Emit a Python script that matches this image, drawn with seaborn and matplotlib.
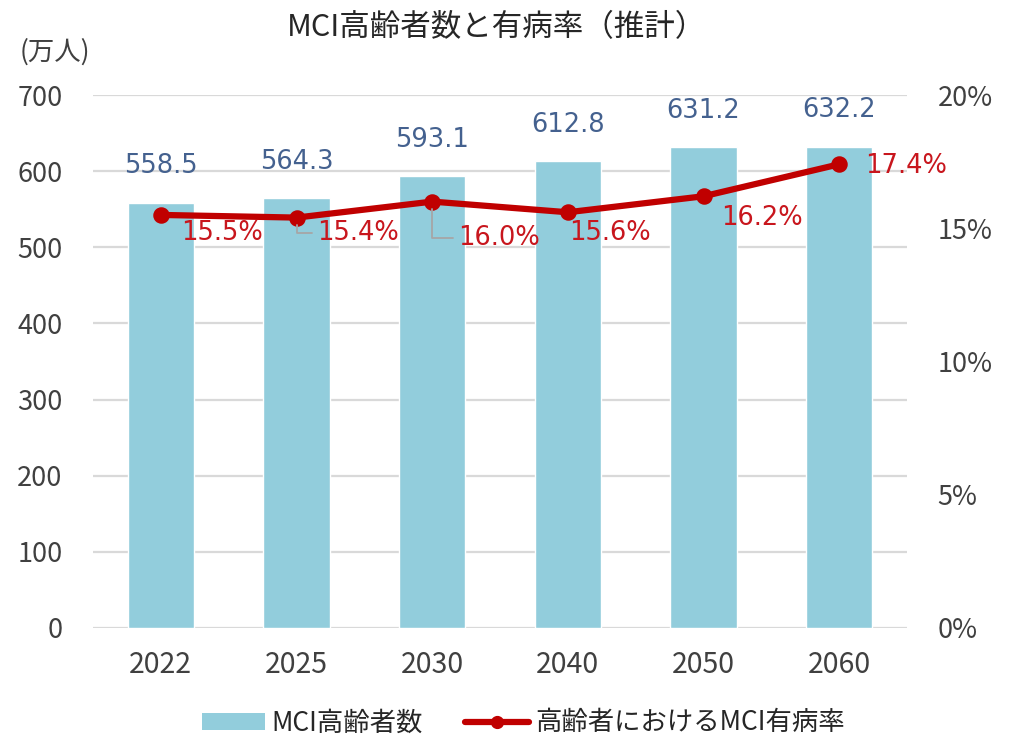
import matplotlib
matplotlib.use('Agg')
import matplotlib.pyplot as plt
import seaborn as sns
from matplotlib.patches import Patch
from matplotlib.lines import Line2D

# データ
years = ['2022', '2025', '2030', '2040', '2050', '2060']
mci_count = [558.5, 564.3, 593.1, 612.8, 631.2, 632.2]   # 万人
mci_rate = [15.5, 15.4, 16.0, 15.6, 16.2, 17.4]          # %
left_ticks = [0, 100, 200, 300, 400, 500, 600, 700]
right_ticks = [0, 5, 10, 15, 20]

bar_color = '#92CDDC'
line_color = '#C00000'
text_color = '#404040'
bar_label_color = '#44618F'
rate_label_color = '#C8161D'

sns.set_theme(style='white')
plt.rcParams['font.family'] = ['Noto Sans CJK JP', 'DejaVu Sans']

fig = plt.figure(figsize=(10.16, 7.42), dpi=100)
ax = fig.add_axes([93 / 1016, 1 - 628 / 742, 814 / 1016, 533 / 742])

sns.barplot(x=years, y=mci_count, color=bar_color, saturation=1,
            width=0.49, ax=ax, zorder=2)
ax.set_ylim(0, 700)
ax.set_yticks(left_ticks)
ax.yaxis.grid(True, color='#D9D9D9', linewidth=1.6, zorder=0)
ax.set_axisbelow(True)
for s in ax.spines.values():
    s.set_visible(False)
ax.tick_params(axis='y', length=0, labelsize=19.5, colors=text_color, pad=22)
ax.tick_params(axis='x', length=0, labelsize=20.5, colors=text_color, pad=16)
ax.set_xlabel('')
ax.set_ylabel('')

ax.bar_label(ax.containers[0], labels=[f'{v:.1f}' for v in mci_count],
             padding=17, fontsize=18.5, color=bar_label_color,
             family='DejaVu Sans')

# 有病率（右軸）
ax2 = ax.twinx()
sns.pointplot(x=years, y=mci_rate, ax=ax2, color=line_color, markers='o',
              errorbar=None, linewidth=4.5, markersize=8.5)
ax2.set_ylim(0, 20)
ax2.set_yticks(right_ticks)
ax2.set_yticklabels([f'{t}%' for t in right_ticks])
for s in ax2.spines.values():
    s.set_visible(False)
ax2.tick_params(axis='y', length=0, labelsize=19.5, colors=text_color, pad=22)
ax2.set_ylabel('')
ax2.grid(False)
ax.set_xlim(-0.5, 5.5)
ax2.set_xlim(-0.5, 5.5)

# 有病率のラベル (offset in points)
offsets = [(44, -13), (44, -11), (48, -26), (30, -15), (42, -16), (48, -1)]
leaders = [False, True, True, False, False, False]
for i, (r, off, lead) in enumerate(zip(mci_rate, offsets, leaders)):
    kw = {}
    if lead:
        kw['arrowprops'] = dict(arrowstyle='-', color='#A6A6A6', lw=1.3,
                                shrinkA=1, shrinkB=5, relpos=(0, 0.5),
                                connectionstyle='angle,angleA=0,angleB=90,rad=0')
    ax2.annotate(f'{r:.1f}%', xy=(i, r), xytext=off, textcoords='offset points',
                 ha='center', va='center', fontsize=18.5,
                 color=rate_label_color, family='DejaVu Sans', **kw)

fig.text(497 / 1016, 1 - 28 / 742, 'MCI高齢者数と有病率（推計）', ha='center',
         va='center', fontsize=22, color='#262626')
fig.text(20 / 1016, 1 - 52 / 742, '(万人)', ha='left', va='center',
         fontsize=19, color=text_color)

handles = [Patch(facecolor=bar_color, edgecolor='none'),
           Line2D([0], [0], color=line_color, lw=4.5, marker='o',
                  markersize=8.5)]
fig.legend(handles, ['MCI高齢者数', '高齢者におけるMCI有病率'],
           loc='center', bbox_to_anchor=(0.515, 1 - 723 / 742), ncol=2,
           frameon=False, fontsize=19, handlelength=2.4, handleheight=0.6,
           columnspacing=1.6, handletextpad=0.25, labelcolor='#262626')

fig.savefig('out.png', dpi=100)
